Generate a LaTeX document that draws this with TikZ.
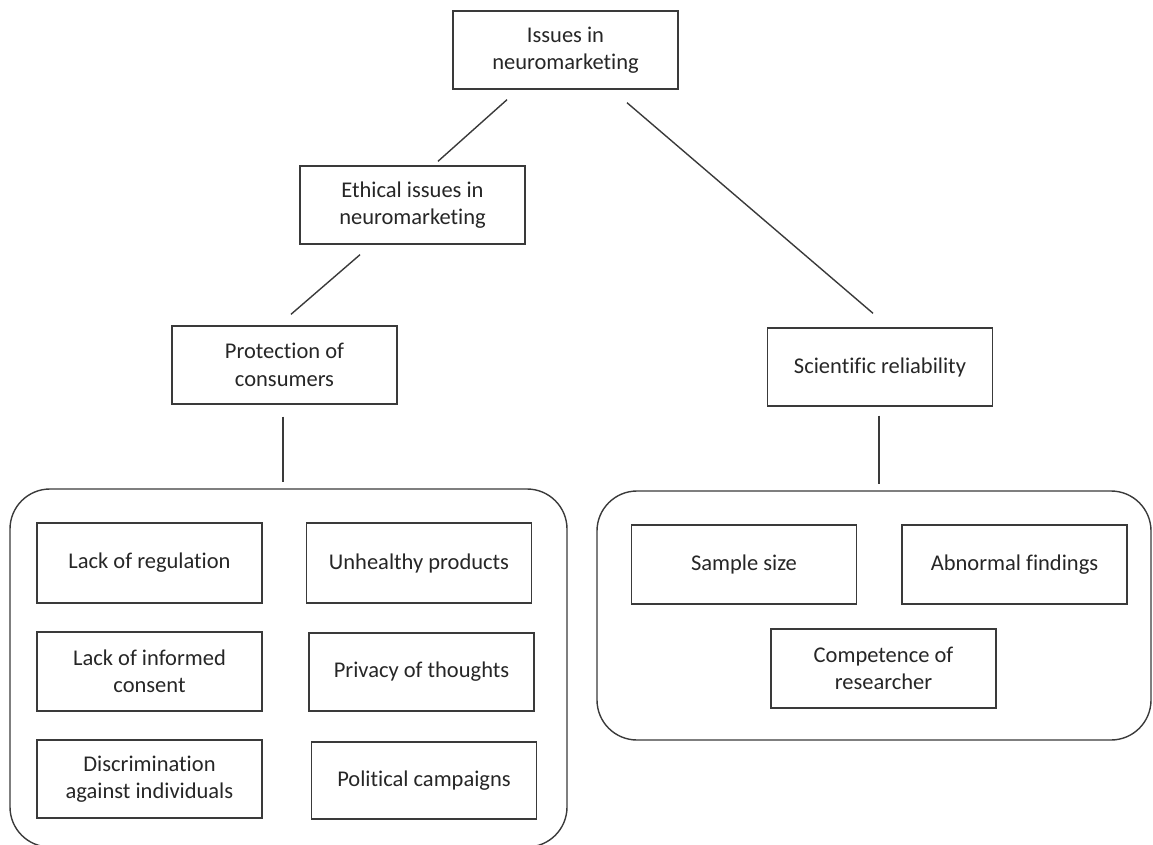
\documentclass[tikz,border=0pt]{standalone}
\usepackage{fontspec}
\setmainfont[Ligatures=NoCommon]{Carlito}
\usetikzlibrary{calc}
\definecolor{linegray}{HTML}{3A3A3A}
\definecolor{textgray}{HTML}{262626}
\begin{document}
\begin{tikzpicture}[x=1pt,y=-1pt,
  box/.style={draw=linegray, line width=1.4pt, minimum width=225pt, minimum height=78pt,
    inner sep=0pt, align=center, text=textgray, font=\fontsize{22.5}{27.5}\selectfont},
  group/.style={draw=linegray, line width=1.4pt, rounded corners=40pt, inner sep=0pt},
  link/.style={draw=linegray, line width=1.4pt}]
\useasboundingbox (0,0) rectangle (1153,845);
% containers
\node[group, minimum width=557pt, minimum height=358pt] (lc) at (288.5,668) {};
\node[group, minimum width=554pt, minimum height=249pt] (rc) at (874,615.5) {};
% hierarchy
\node[box] (issues) at (565.5,50) {Issues in\\neuromarketing};
\node[box] (ethical) at (412.5,205) {Ethical issues in\\neuromarketing};
\node[box] (prot) at (284.5,365) {Protection of\\consumers};
\node[box] (sci) at (880,367) {Scientific reliability};
% left group
\node[box, minimum height=80pt] (reg) at (149.5,563) {Lack of regulation};
\node[box, minimum height=80pt] (unh) at (419,563) {Unhealthy products};
\node[box, minimum height=79pt] (inf) at (149.5,671.5) {Lack of informed\\consent};
\node[box] (priv) at (421.5,672) {Privacy of thoughts};
\node[box] (disc) at (149.5,779) {Discrimination\\against individuals};
\node[box, minimum height=77pt] (pol) at (424,780.5) {Political campaigns};
% right group
\node[box, minimum height=79pt] (samp) at (744,564.5) {Sample size};
\node[box, minimum height=79pt] (abn) at (1014.5,564.5) {Abnormal findings};
\node[box, minimum height=79pt] (comp) at (883.5,668.5) {Competence of\\researcher};
% connectors
\draw[link] ($(issues.south)+(-58.5,10)$) -- ($(ethical.north)+(25.5,-4)$);
\draw[link] ($(ethical.south)+(-52.5,10)$) -- ($(prot.north)+(6.5,-11)$);
\draw[link] ($(issues.south)+(61.5,13)$) -- ($(sci.north)+(-7,-14)$);
\draw[link] ($(prot.south)+(-1.5,12)$) -- ($(prot.south |- lc.north)+(-1.5,-6)$);
\draw[link] ($(sci.south)+(-1,9)$) -- ($(sci.south |- rc.north)+(-1,-6)$);
\end{tikzpicture}
\end{document}
